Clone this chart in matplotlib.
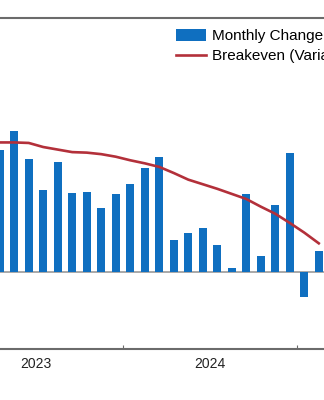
import matplotlib
matplotlib.use("Agg")
import matplotlib.pyplot as plt
import numpy as np

plt.rcParams['font.family'] = ['Liberation Sans', 'DejaVu Sans']

# Monthly series, Apr 2023 .. Feb 2025 (thousands)
months = ["2023-04", "2023-05", "2023-06", "2023-07", "2023-08", "2023-09",
          "2023-10", "2023-11", "2023-12", "2024-01", "2024-02", "2024-03",
          "2024-04", "2024-05", "2024-06", "2024-07", "2024-08", "2024-09",
          "2024-10", "2024-11", "2024-12", "2025-01", "2025-02"]
monthly_change = [240, 278, 223, 162, 217, 155, 158, 126, 153, 174, 205, 227,
                  64, 77, 87, 53, 9, 154, 33, 133, 235, -49, 42]
breakeven = [255, 255, 254, 246, 241, 236, 235, 232, 227, 220, 214, 207,
             195, 182, 173, 164, 154, 144, 129, 115, 97, 78, 57]
years = ["2023", "2024"]

blue = "#0F6FC0"
red = "#B3303A"
gray = "#6b6b6b"

# month index with Jan 2023 = 0
x = np.array([(int(m[:4]) - 2023) * 12 + int(m[5:]) - 1 for m in months])

fig = plt.figure(figsize=(3.24, 4.0), dpi=100)
ax = fig.add_axes([0, 0.128, 1, 0.828])

ax.axhline(0, color="#9a9a9a", lw=1.2, zorder=1)
bars = ax.bar(x, monthly_change, width=0.55, color=blue, label="Monthly Change", zorder=2)
line, = ax.plot(x, breakeven, color=red, lw=1.9, label="Breakeven (Variable)", zorder=3)

# year boundaries as ticks, year names centred between them
ax.set_xticks([-0.5, 11.5, 23.5])
ax.set_xticklabels([])
ax.set_xticks([5.5, 17.5], minor=True)
ax.set_xticklabels(years, minor=True, fontsize=10, color="#222222")
ax.tick_params(axis="x", which="major", direction="in", length=3, width=0.8, color=gray)
ax.tick_params(axis="x", which="minor", length=0, pad=6)
ax.set_yticks([])

ax.set_xlim(3.02, 25.36)
ax.set_ylim(-150, 500)

for s in ["left", "right"]:
    ax.spines[s].set_visible(False)
for s in ["top", "bottom"]:
    ax.spines[s].set_color(gray)
    ax.spines[s].set_linewidth(1.5)

ax.legend(handles=[bars, line], loc="upper left", bbox_to_anchor=(0.543, 0.928),
          bbox_transform=fig.transFigure, frameon=False, fontsize=11,
          handlelength=2.0, handleheight=0.9, handletextpad=0.37,
          labelspacing=0.35, borderaxespad=0, borderpad=0)

fig.savefig("out.png", dpi=100)
